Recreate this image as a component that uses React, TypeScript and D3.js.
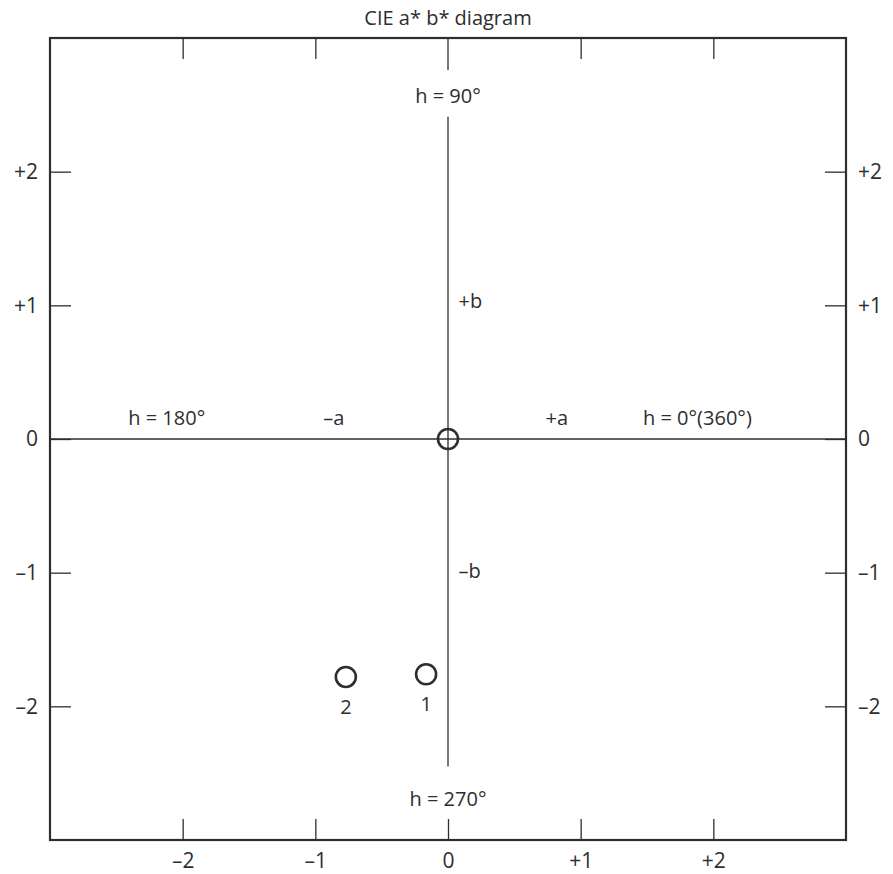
import * as d3 from "d3";
import React, { useRef, useEffect } from "react";

const width = 893;
const height = 874;
const margin = { top: 38, right: 47, bottom: 34, left: 50 };

// axis ticks (same on both axes)
const tickValues = [-2, -1, 0, 1, 2];
const tickLabels = ["–2", "–1", "0", "+1", "+2"];

// measured colours
const pointNames = ["origin", "1", "2"];
const pointA = [0, -0.165, -0.77];
const pointB = [0, -1.76, -1.78];

const font = "'Open Sans', 'DejaVu Sans', sans-serif";
const ink = "#2e2e2e";

const x = d3.scaleLinear().domain([-3, 3]).range([margin.left, width - margin.right]);
const y = d3.scaleLinear().domain([-3, 3]).range([height - margin.bottom, margin.top]);

const fmt = (d: number) => tickLabels[tickValues.indexOf(d)];

const App = () => {
  const leftRef = useRef<SVGGElement>(null);
  const rightRef = useRef<SVGGElement>(null);
  const topRef = useRef<SVGGElement>(null);
  const bottomRef = useRef<SVGGElement>(null);

  useEffect(() => {
    const style = (g: any) => {
      g.select(".domain").remove();
      g.selectAll("line").attr("stroke", ink).attr("stroke-width", 1.3);
      g.selectAll("text").attr("fill", ink).style("font-family", font).style("font-size", "21px");
    };
    d3.select(leftRef.current!).call(d3.axisLeft(y).tickValues(tickValues).tickFormat(fmt as any).tickSize(-21).tickPadding(12) as any).call(style);
    d3.select(rightRef.current!).call(d3.axisRight(y).tickValues(tickValues).tickFormat(fmt as any).tickSize(-21).tickPadding(12) as any).call(style);
    d3.select(bottomRef.current!).call(d3.axisBottom(x).tickValues(tickValues).tickFormat(fmt as any).tickSize(-21).tickPadding(13) as any).call(style);
    d3.select(topRef.current!).call(d3.axisTop(x).tickValues(tickValues.filter((d) => d !== 0)).tickFormat(() => "").tickSize(-21) as any).call(style);
  }, []);

  const labelStyle = { fontFamily: font, fontSize: 20, fill: ink };

  return (
    <svg width={width} height={height} style={{ position: "absolute", left: 0, top: 0 }}>
      <rect width={width} height={height} fill="white" />
      <text x={x(0)} y={25} textAnchor="middle" style={{ ...labelStyle, fontSize: 20 }}>
        CIE a* b* diagram
      </text>

      {/* axis cross */}
      <line x1={x(-3)} x2={x(3)} y1={y(0)} y2={y(0)} stroke={ink} strokeWidth={1.3} />
      <line x1={x(0)} x2={x(0)} y1={y(2.41)} y2={y(-2.45)} stroke={ink} strokeWidth={1.3} />
      <line x1={x(0)} x2={x(0)} y1={y(3)} y2={y(2.76)} stroke={ink} strokeWidth={1.3} />

      <g ref={leftRef} transform={`translate(${margin.left},0)`} />
      <g ref={rightRef} transform={`translate(${width - margin.right},0)`} />
      <g ref={bottomRef} transform={`translate(0,${height - margin.bottom})`} />
      <g ref={topRef} transform={`translate(0,${margin.top})`} />

      <rect
        x={margin.left}
        y={margin.top}
        width={width - margin.left - margin.right}
        height={height - margin.top - margin.bottom}
        fill="none"
        stroke={ink}
        strokeWidth={2.2}
      />

      {/* direction labels */}
      <text x={x(0)} y={y(2.5) - 2} textAnchor="middle" style={labelStyle}>h = 90°</text>
      <text x={x(0)} y={y(-2.72) + 3} textAnchor="middle" style={labelStyle}>h = 270°</text>
      <text x={x(-2.12)} y={y(0) - 14} textAnchor="middle" style={labelStyle}>h = 180°</text>
      <text x={x(1.88)} y={y(0) - 14} textAnchor="middle" style={labelStyle}>h = 0°(360°)</text>
      <text x={x(-0.86)} y={y(0) - 14} textAnchor="middle" style={labelStyle}>–a</text>
      <text x={x(0.82)} y={y(0) - 14} textAnchor="middle" style={labelStyle}>+a</text>
      <text x={x(0.08)} y={y(1) + 3} textAnchor="start" style={labelStyle}>+b</text>
      <text x={x(0.08)} y={y(-1) + 5} textAnchor="start" style={labelStyle}>–b</text>

      {/* colour points */}
      {pointNames.map((name, i) => (
        <g key={name}>
          <circle cx={x(pointA[i])} cy={y(pointB[i])} r={10} fill="none" stroke={ink} strokeWidth={2.6} />
          {name !== "origin" && (
            <text x={x(pointA[i])} y={y(pointB[i]) + 37} textAnchor="middle" style={labelStyle}>
              {name}
            </text>
          )}
        </g>
      ))}
    </svg>
  );
};

export default App;
